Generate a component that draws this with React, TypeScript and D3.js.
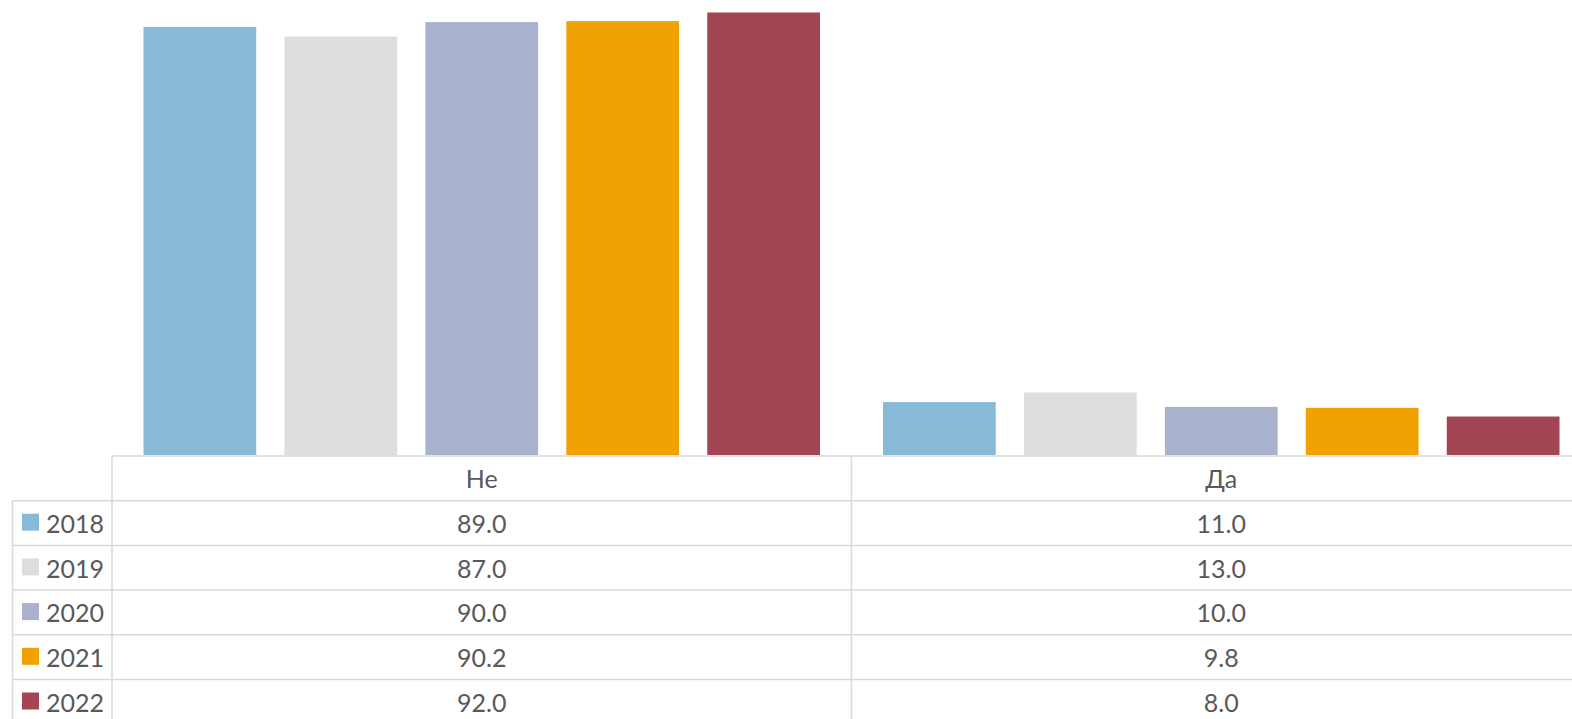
import * as d3 from 'd3'

const CATEGORIES = ['Не', 'Да']
const YEARS = ['2018', '2019', '2020', '2021', '2022']
const COLORS = ['#86bad7', '#dedede', '#a9b2cd', '#f0a202', '#a44556']
const NE_VALUES = [89.0, 87.0, 90.0, 90.2, 92.0]
const DA_VALUES = [11.0, 13.0, 10.0, 9.8, 8.0]

const WIDTH = 1572
const HEIGHT = 719
const PLOT = { left: 112, right: 1591, baseline: 456 }
const ROW_H = 44.7
const GRID = '#d9d9d9'
const TEXT = '#595959'
const FONT = 'Lato, "Open Sans", sans-serif'

function App() {
  const series = [NE_VALUES, DA_VALUES]

  const x0 = d3.scaleBand<string>().domain(CATEGORIES).range([PLOT.left, PLOT.right])
  const outer = 31.5
  const x1 = d3
    .scaleBand<string>()
    .domain(YEARS)
    .range([outer, x0.bandwidth() - outer])
    .paddingInner(0.2)
  const y = d3.scaleLinear().domain([0, 100]).range([PLOT.baseline - 1, -26])

  const rowTop = (i: number) => PLOT.baseline + ROW_H * (i + 1)

  return (
    <div style={{ position: 'absolute', left: 0, top: 0 }}>
      <svg width={WIDTH} height={HEIGHT} style={{ display: 'block', background: '#fff' }}>
        {/* bars */}
        {CATEGORIES.map((cat, ci) => (
          <g key={cat} transform={`translate(${x0(cat)},0)`}>
            {YEARS.map((yr, yi) => {
              const v = series[ci][yi]
              return (
                <rect
                  key={yr}
                  x={x1(yr)}
                  y={y(v)}
                  width={x1.bandwidth()}
                  height={y(0) - y(v)}
                  fill={COLORS[yi]}
                />
              )
            })}
          </g>
        ))}

        {/* data table */}
        <g stroke={GRID} strokeWidth={1.5} fill="none">
          <line x1={PLOT.left} x2={WIDTH} y1={PLOT.baseline} y2={PLOT.baseline} />
          {YEARS.map((yr, i) => (
            <line key={yr} x1={12} x2={WIDTH} y1={rowTop(i)} y2={rowTop(i)} />
          ))}
          <line x1={12} x2={WIDTH} y1={rowTop(5)} y2={rowTop(5)} />
          <line x1={12.5} x2={12.5} y1={rowTop(0)} y2={HEIGHT} />
          {CATEGORIES.map((cat) => (
            <line
              key={cat}
              x1={x0(cat)}
              x2={x0(cat)}
              y1={PLOT.baseline}
              y2={HEIGHT}
            />
          ))}
        </g>

        <g fontFamily={FONT} fontSize={25} fill={TEXT}>
          {CATEGORIES.map((cat) => (
            <text
              key={cat}
              x={(x0(cat) ?? 0) + x0.bandwidth() / 2}
              y={PLOT.baseline + ROW_H / 2}
              textAnchor="middle"
              dominantBaseline="central"
            >
              {cat}
            </text>
          ))}
          {YEARS.map((yr, yi) => (
            <g key={yr}>
              <rect x={22} y={rowTop(yi) + 13} width={17} height={17} fill={COLORS[yi]} />
              <text x={46} y={rowTop(yi) + ROW_H / 2} dominantBaseline="central">
                {yr}
              </text>
              {CATEGORIES.map((cat, ci) => (
                <text
                  key={cat}
                  x={(x0(cat) ?? 0) + x0.bandwidth() / 2}
                  y={rowTop(yi) + ROW_H / 2}
                  textAnchor="middle"
                  dominantBaseline="central"
                >
                  {series[ci][yi].toFixed(1)}
                </text>
              ))}
            </g>
          ))}
        </g>
      </svg>
    </div>
  )
}

export default App
